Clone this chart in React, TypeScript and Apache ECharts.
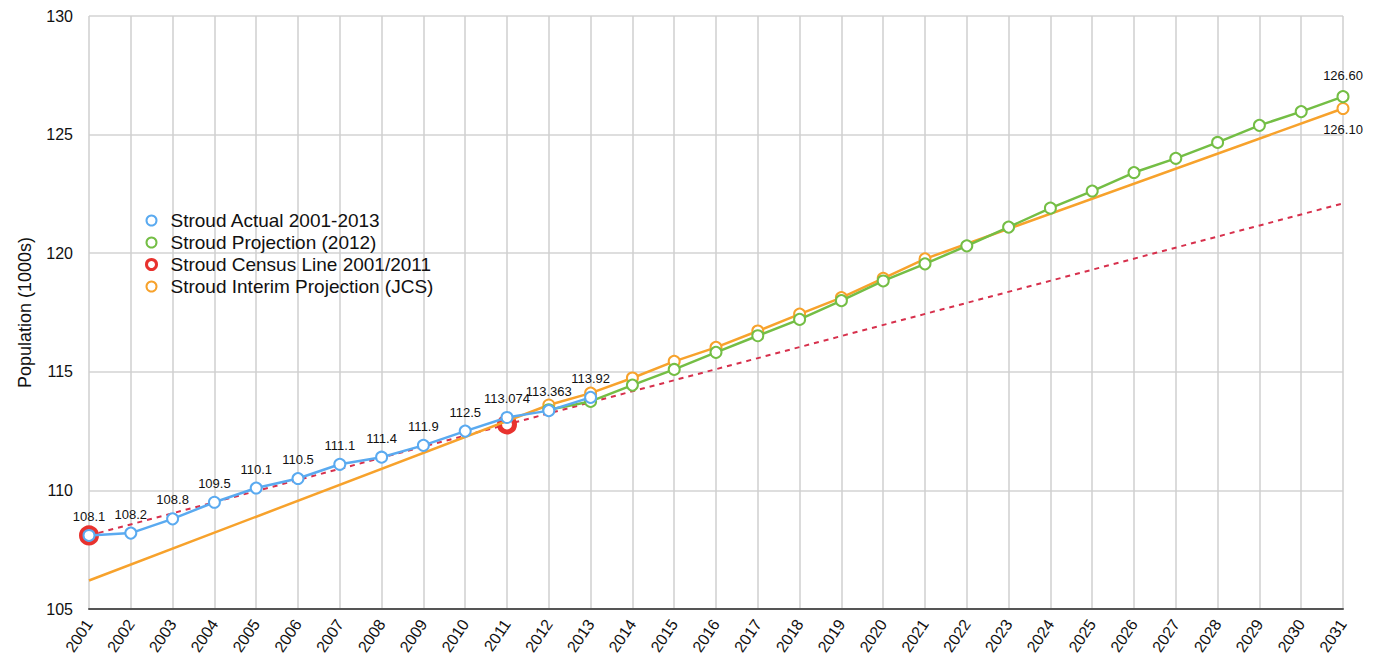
import React, { useEffect, useRef } from "react";
import * as echarts from "echarts";

const years = Array.from({ length: 31 }, (_, i) => String(2001 + i));

// Stroud Actual 2001-2013
const actual: (number | null)[] = [
  108.1, 108.2, 108.8, 109.5, 110.1, 110.5, 111.1, 111.4, 111.9, 112.5, 113.074, 113.363, 113.92,
];
// Stroud Projection (2012), from 2012 to 2031
const projection: (number | null)[] = [
  null, null, null, null, null, null, null, null, null, null, null,
  113.4, 113.75, 114.44, 115.1, 115.82, 116.52, 117.21, 118.0, 118.83, 119.55,
  120.31, 121.1, 121.9, 122.62, 123.4, 124.0, 124.67, 125.39, 125.97, 126.6,
];
// Stroud Census Line 2001/2011 (extended to 2031)
const census: (number | null)[] = [
  108.1, null, null, null, null, null, null, null, null, null, 112.78,
  null, null, null, null, null, null, null, null, null, null,
  null, null, null, null, null, null, null, null, null, 122.1,
];
// Stroud Interim Projection (JCS)
const interim: (number | null)[] = [
  106.2, null, null, null, null, null, null, null, null, null, null,
  113.6, 114.1, 114.74, 115.44, 116.03, 116.72, 117.43, 118.13, 118.94, 119.76,
  null, null, null, null, null, null, null, null, null, 126.1,
];

const BLUE = "#5aaaf0";
const GREEN = "#74be45";
const RED = "#e8322e";
const REDLINE = "#d7304c";
const ORANGE = "#f7a22c";
const FONT = "Liberation Sans, Arial, Helvetica, sans-serif";

export default function App() {
  const ref = useRef<HTMLDivElement>(null);
  useEffect(() => {
    if (!ref.current) return;
    const chart = echarts.init(ref.current, undefined, { renderer: "svg" });
    const censusData = census.map((v, i) =>
      v === null ? null : i === census.length - 1 ? { value: v, symbol: "none" } : v
    );
    const projLabelIdx = projection.length - 1;
    const interimLabelIdx = interim.length - 1;
    const endLabel = (text: string, position: string) => ({
      show: true, position, distance: 8, formatter: text, fontSize: 13, color: "#111", fontFamily: FONT,
    });
    const interimData = interim.map((v, i) => {
      if (v === null) return null;
      if (i === 0) return { value: v, symbol: "none" };
      if (i === interimLabelIdx) return { value: v, label: endLabel("126.10", "bottom") };
      return v;
    });
    const legendItem = (name: string, color: string, bw: number) => ({
      name,
      icon: "circle",
      itemStyle: { color: "#fff", borderColor: color, borderWidth: bw },
    });
    chart.setOption({
      animation: false,
      textStyle: { fontFamily: FONT },
      grid: { left: 75, right: 31, top: 5, bottom: 49, containLabel: false },
      legend: {
        orient: "vertical",
        left: 132,
        top: 198,
        itemWidth: 28,
        itemHeight: 10,
        itemGap: 3,
        textStyle: { fontSize: 19, color: "#111", fontFamily: FONT },
        data: [
          legendItem("Stroud Actual 2001-2013", BLUE, 2),
          legendItem("Stroud Projection (2012)", GREEN, 2),
          legendItem("Stroud Census Line 2001/2011", RED, 3),
          legendItem("Stroud Interim Projection (JCS)", ORANGE, 2),
        ],
      },
      xAxis: {
        type: "category",
        data: years,
        boundaryGap: false,
        axisLine: { lineStyle: { color: "#555", width: 2 } },
        axisTick: { show: false },
        axisLabel: { rotate: 56, fontSize: 16, color: "#111", margin: 12, fontFamily: FONT },
        splitLine: { show: true, lineStyle: { color: "#cfcfcf", width: 1.5 } },
      },
      yAxis: {
        type: "value",
        min: 105,
        max: 130,
        interval: 5,
        name: "Population (1000s)",
        nameLocation: "middle",
        nameGap: 55,
        nameTextStyle: { fontSize: 18, color: "#111", fontFamily: FONT },
        axisLine: { show: false },
        axisTick: { show: false },
        axisLabel: { fontSize: 16, color: "#111", margin: 16, fontFamily: FONT },
        splitLine: { lineStyle: { color: "#d3d3d3", width: 1.5 } },
      },
      series: [
        {
          name: "Stroud Actual 2001-2013",
          type: "line",
          data: actual,
          z: 5,
          symbol: "circle",
          symbolSize: 11,
          lineStyle: { color: BLUE, width: 2.5 },
          itemStyle: { color: "#fff", borderColor: BLUE, borderWidth: 2 },
          label: { show: true, position: "top", distance: 6, fontSize: 13, color: "#111", fontFamily: FONT },
        },
        {
          name: "Stroud Projection (2012)",
          type: "line",
          data: projection.map((v, i) =>
            v === null ? null : i === projLabelIdx ? { value: v, label: endLabel("126.60", "top") } : v
          ),
          z: 4,
          symbol: "circle",
          symbolSize: 11,
          lineStyle: { color: GREEN, width: 2.5 },
          itemStyle: { color: "#fff", borderColor: GREEN, borderWidth: 2 },
        },
        {
          name: "Stroud Census Line 2001/2011",
          type: "line",
          data: censusData,
          connectNulls: true,
          z: 2,
          symbol: "circle",
          symbolSize: 15,
          lineStyle: { color: REDLINE, width: 2, type: [5, 5] },
          itemStyle: { color: "#fff", borderColor: RED, borderWidth: 5 },
        },
        {
          name: "Stroud Interim Projection (JCS)",
          type: "line",
          data: interimData,
          connectNulls: true,
          z: 3,
          symbol: "circle",
          symbolSize: 11,
          lineStyle: { color: ORANGE, width: 2.5 },
          itemStyle: { color: "#fff", borderColor: ORANGE, borderWidth: 2 },
        },
      ],
    });
    return () => chart.dispose();
  }, []);
  return <div ref={ref} style={{ width: 1366, height: 650 }} />;
}
